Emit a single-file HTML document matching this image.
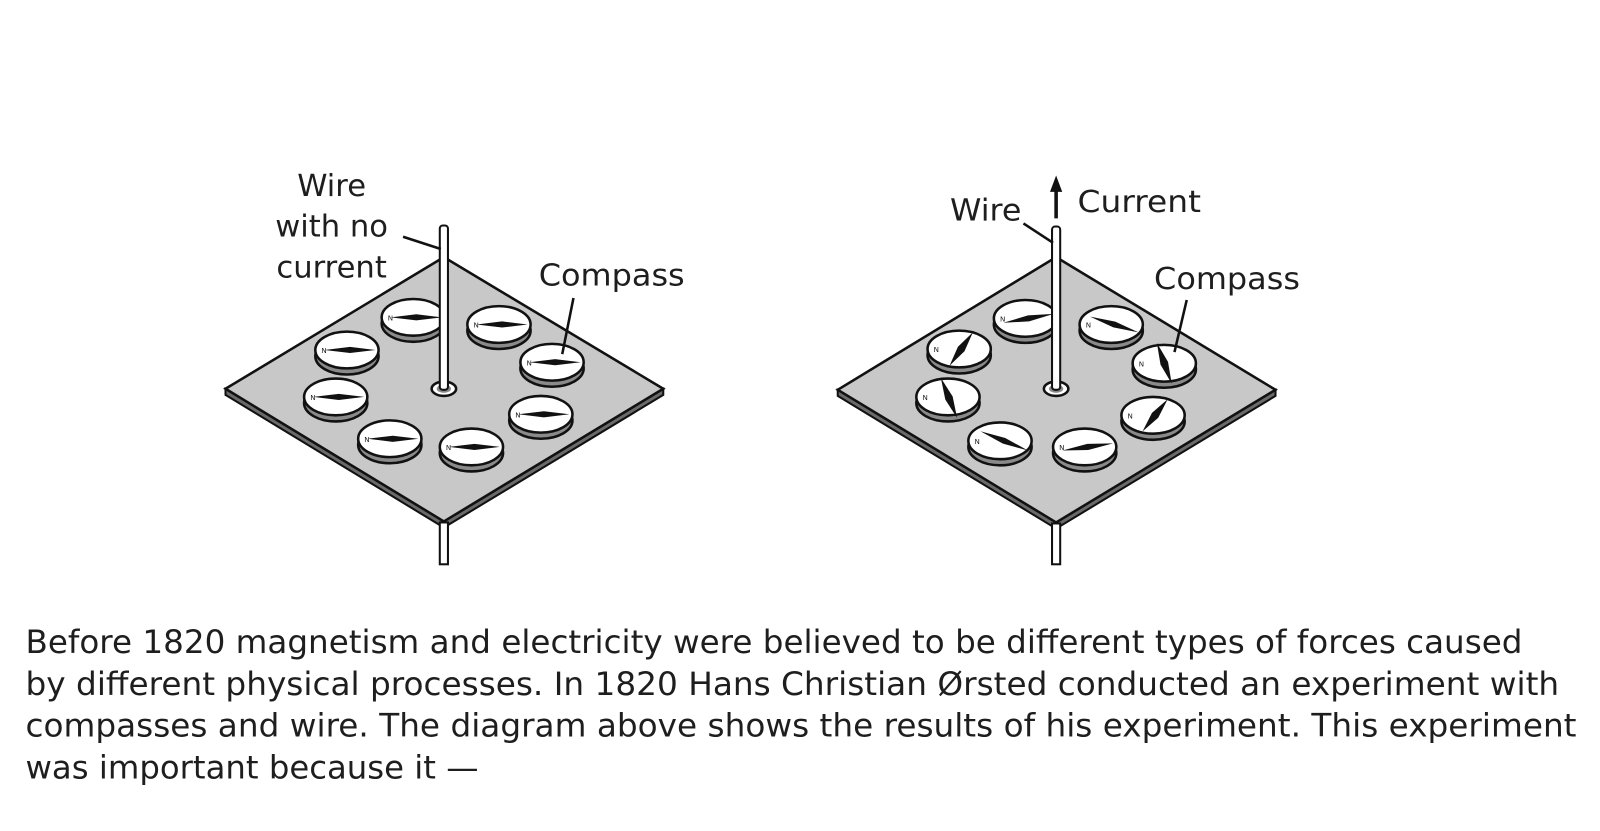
<!DOCTYPE html>
<html><head><meta charset="utf-8"><style>
html,body{margin:0;padding:0;background:#fff;width:1600px;height:831px;overflow:hidden}
svg{display:block}
text{font-family:"DejaVu Sans","Liberation Sans",sans-serif;fill:#1e1e1e}
</style></head><body>
<svg width="1600" height="831" viewBox="0 0 1600 831" xmlns="http://www.w3.org/2000/svg">
<defs>
<g id="cb">
<ellipse cx="0" cy="6" rx="31" ry="18" fill="#8a8a8a" stroke="#111" stroke-width="2.5"/>
<ellipse cx="0" cy="0" rx="31" ry="18" fill="#fff" stroke="#111" stroke-width="2.5"/>
</g>
<polygon id="nd" points="-25,0 0,-3 25,0 0,3" fill="#111"/>
</defs>
<g transform="scale(1.0204)">
<!-- LEFT BOARD -->
<polygon points="221,381 435,252 650,381 435,511" fill="#111"/>
<polygon points="221,387 435,517 650,387 650,381 435,511 221,381" fill="#6a6a6a" stroke="#111" stroke-width="2"/>
<polygon points="221,381 435,252 650,381 435,511" fill="#c8c8c8" stroke="#111" stroke-width="2.5"/>
<rect x="431" y="512" width="8" height="41" fill="#fff" stroke="#111" stroke-width="2"/>
<ellipse cx="435" cy="381" rx="12" ry="7" fill="#fff" stroke="#111" stroke-width="2.5"/>
<ellipse cx="435" cy="381" rx="7" ry="4" fill="#888"/>
<g><use href="#cb" x="405" y="311"/><use href="#nd" transform="translate(408,311)"/><text x="380" y="314" font-size="7">N</text></g>
<g><use href="#cb" x="489" y="318"/><use href="#nd" transform="translate(492,318)"/><text x="464" y="321" font-size="7">N</text></g>
<g><use href="#cb" x="340" y="343"/><use href="#nd" transform="translate(343,343)"/><text x="315" y="346" font-size="7">N</text></g>
<g><use href="#cb" x="541" y="355"/><use href="#nd" transform="translate(544,355)"/><text x="516" y="358" font-size="7">N</text></g>
<g><use href="#cb" x="329" y="389"/><use href="#nd" transform="translate(332,389)"/><text x="304" y="392" font-size="7">N</text></g>
<g><use href="#cb" x="530" y="406"/><use href="#nd" transform="translate(533,406)"/><text x="505" y="409" font-size="7">N</text></g>
<g><use href="#cb" x="382" y="430"/><use href="#nd" transform="translate(385,430)"/><text x="357" y="433" font-size="7">N</text></g>
<g><use href="#cb" x="462" y="438"/><use href="#nd" transform="translate(465,438)"/><text x="437" y="441" font-size="7">N</text></g>
<rect x="431" y="221" width="8" height="161" rx="3" fill="#fff" stroke="#111" stroke-width="2"/>
<line x1="395" y1="232" x2="432" y2="244" stroke="#111" stroke-width="2.5"/>
<line x1="562" y1="292" x2="551" y2="347" stroke="#111" stroke-width="2.5"/>
<text x="325" y="192" font-size="30" text-anchor="middle">Wire</text>
<text x="325" y="232" font-size="30" text-anchor="middle">with no</text>
<text x="325" y="272" font-size="30" text-anchor="middle">current</text>
<text x="528" y="280" font-size="30" textLength="143" lengthAdjust="spacingAndGlyphs">Compass</text>

<!-- RIGHT BOARD -->
<polygon points="821,382 1035,252 1250,382 1035,512" fill="#111"/>
<polygon points="821,388 1035,518 1250,388 1250,382 1035,512 821,382" fill="#6a6a6a" stroke="#111" stroke-width="2"/>
<polygon points="821,382 1035,252 1250,382 1035,512" fill="#c8c8c8" stroke="#111" stroke-width="2.5"/>
<rect x="1031" y="513" width="8" height="40" fill="#fff" stroke="#111" stroke-width="2"/>
<ellipse cx="1035" cy="381" rx="12" ry="7" fill="#fff" stroke="#111" stroke-width="2.5"/>
<ellipse cx="1035" cy="381" rx="7" ry="4" fill="#888"/>
<g><use href="#cb" x="1005" y="312"/><use href="#nd" transform="translate(1008,312) rotate(-10)"/><text x="980" y="315" font-size="7">N</text></g>
<g><use href="#cb" x="1089" y="318"/><use href="#nd" transform="translate(1092,318) rotate(18)"/><text x="1064" y="321" font-size="7">N</text></g>
<g><use href="#cb" x="940" y="342"/><use href="#nd" transform="translate(942,342) rotate(-55) scale(0.8,1.3)"/><text x="915" y="345" font-size="7">N</text></g>
<g><use href="#cb" x="1141" y="356"/><use href="#nd" transform="translate(1141,356) rotate(70) scale(0.85,1.3)"/><text x="1116" y="359" font-size="7">N</text></g>
<g><use href="#cb" x="929" y="389"/><use href="#nd" transform="translate(930,390) rotate(68) scale(0.85,1.3)"/><text x="904" y="392" font-size="7">N</text></g>
<g><use href="#cb" x="1130" y="407"/><use href="#nd" transform="translate(1132,407) rotate(-52) scale(0.8,1.3)"/><text x="1105" y="410" font-size="7">N</text></g>
<g><use href="#cb" x="980" y="432"/><use href="#nd" transform="translate(984,432) rotate(22)"/><text x="955" y="435" font-size="7">N</text></g>
<g><use href="#cb" x="1063" y="438"/><use href="#nd" transform="translate(1066,438) rotate(-8)"/><text x="1038" y="441" font-size="7">N</text></g>
<rect x="1031" y="222" width="8" height="160" rx="3" fill="#fff" stroke="#111" stroke-width="2"/>
<line x1="1035" y1="214" x2="1035" y2="186" stroke="#111" stroke-width="3.5"/>
<polygon points="1035,172 1029,188 1041,188" fill="#111"/>
<line x1="1003" y1="219" x2="1032" y2="238" stroke="#111" stroke-width="2.5"/>
<line x1="1163" y1="294" x2="1151" y2="345" stroke="#111" stroke-width="2.5"/>
<text x="931" y="216" font-size="30" textLength="70" lengthAdjust="spacingAndGlyphs">Wire</text>
<text x="1056" y="208" font-size="30" textLength="121" lengthAdjust="spacingAndGlyphs">Current</text>
<text x="1131" y="283" font-size="30" textLength="143" lengthAdjust="spacingAndGlyphs">Compass</text>

<!-- PARAGRAPH -->
<text x="25" y="640" font-size="31" textLength="1467" lengthAdjust="spacingAndGlyphs">Before 1820 magnetism and electricity were believed to be different types of forces caused</text>
<text x="25" y="681" font-size="31" textLength="1503" lengthAdjust="spacingAndGlyphs">by different physical processes. In 1820 Hans Christian Ørsted conducted an experiment with</text>
<text x="25" y="722" font-size="31" textLength="1520" lengthAdjust="spacingAndGlyphs">compasses and wire. The diagram above shows the results of his experiment. This experiment</text>
<text x="25" y="763" font-size="31" textLength="444" lengthAdjust="spacingAndGlyphs">was important because it —</text>
</g>
</svg>
</body></html>
